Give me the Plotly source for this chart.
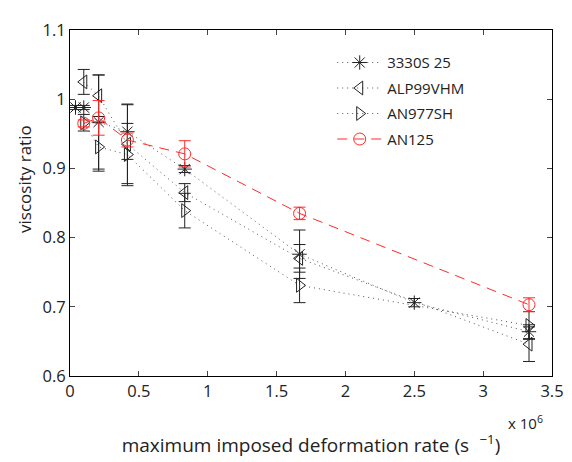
import plotly.graph_objects as go

# deformation rate, in units of 1e6 s^-1
x_3330 = [0.04, 0.1, 0.208, 0.417, 0.833, 1.667, 2.5, 3.333]
y_3330 = [0.988, 0.988, 0.967, 0.953, 0.899, 0.776, 0.706, 0.664]
e_3330 = [0.003, 0.003, 0.068, 0.04, 0.005, 0.035, 0.006, 0.01]

x_alp = [0.1, 0.208, 0.417, 0.833, 1.667, 3.333]
y_alp = [1.025, 1.005, 0.935, 0.865, 0.770, 0.646]
e_alp = [0.018, 0.03, 0.057, 0.013, 0.02, 0.025]

x_an977 = [0.1, 0.208, 0.417, 0.833, 1.667, 3.333]
y_an977 = [0.966, 0.931, 0.920, 0.839, 0.731, 0.673]
e_an977 = [0.012, 0.035, 0.045, 0.025, 0.025, 0.02]

x_an125 = [0.1, 0.208, 0.417, 0.833, 1.667, 3.333]
y_an125 = [0.965, 0.973, 0.941, 0.921, 0.835, 0.703]
e_an125 = [0.005, 0.025, 0.01, 0.019, 0.009, 0.01]

series = [
    ("3330S 25", x_3330, y_3330, e_3330, "asterisk-open", "#222222", "1px,4px"),
    ("ALP99VHM", x_alp, y_alp, e_alp, "triangle-left-open", "#222222", "1px,4px"),
    ("AN977SH", x_an977, y_an977, e_an977, "triangle-right-open", "#222222", "1px,4px"),
    ("AN125", x_an125, y_an125, e_an125, "circle-open", "#ff2a2a", "10px,7px"),
]

fig = go.Figure()
for name, xs, ys, es, sym, col, dash in series:
    fig.add_trace(go.Scatter(
        x=xs, y=ys, name=name, legendgroup=name, mode="lines+markers",
        line=dict(color=col if name == "AN125" else "#555555", width=1, dash=dash),
        marker=dict(symbol=sym, size=12, color=col, line=dict(width=1, color=col)),
        error_y=dict(type="data", array=es, visible=True, color=col, thickness=1, width=6),
    ))

fig.update_layout(
    width=572, height=462,
    paper_bgcolor="white", plot_bgcolor="white",
    margin=dict(l=62, r=28, t=10, b=94),
    font=dict(family="Open Sans, sans-serif", size=16.5, color="#222"),
    showlegend=True,
    legend=dict(x=0.544, y=0.953, xanchor="left", yanchor="top",
                bgcolor="rgba(255,255,255,0)", font=dict(size=15),
                itemwidth=45, tracegroupgap=3),
)
fig.update_xaxes(range=[0, 3.5], tickvals=[0, 0.5, 1, 1.5, 2, 2.5, 3, 3.5],
                 ticktext=["0", "0.5", "1", "1.5", "2", "2.5", "3", "3.5"],
                 showline=True, linecolor="black", mirror="ticks", ticks="inside",
                 ticklen=5, showgrid=False, zeroline=False, ticklabeloverflow="allow",
                 title=dict(text="maximum imposed deformation rate (s<sup>   −1</sup>)",
                            font=dict(size=19), standoff=37))
fig.update_yaxes(range=[0.6, 1.1], tickvals=[0.6, 0.7, 0.8, 0.9, 1.0, 1.1],
                 ticktext=["0.6", "0.7", "0.8", "0.9", "1", "1.1"],
                 showline=True, linecolor="black", mirror="ticks", ticks="inside",
                 ticklen=5, showgrid=False, zeroline=False, ticklabeloverflow="allow")
fig.add_annotation(text="viscosity ratio", xref="paper", yref="paper",
                   x=-0.093, y=0.57, xanchor="center", yanchor="middle", textangle=-90,
                   showarrow=False, font=dict(size=17))
fig.add_annotation(text="x 10<sup>6</sup>", xref="paper", yref="paper",
                   x=0.985, y=-0.135, xanchor="right", yanchor="middle",
                   showarrow=False, font=dict(size=15))

fig.write_html("out.html")
